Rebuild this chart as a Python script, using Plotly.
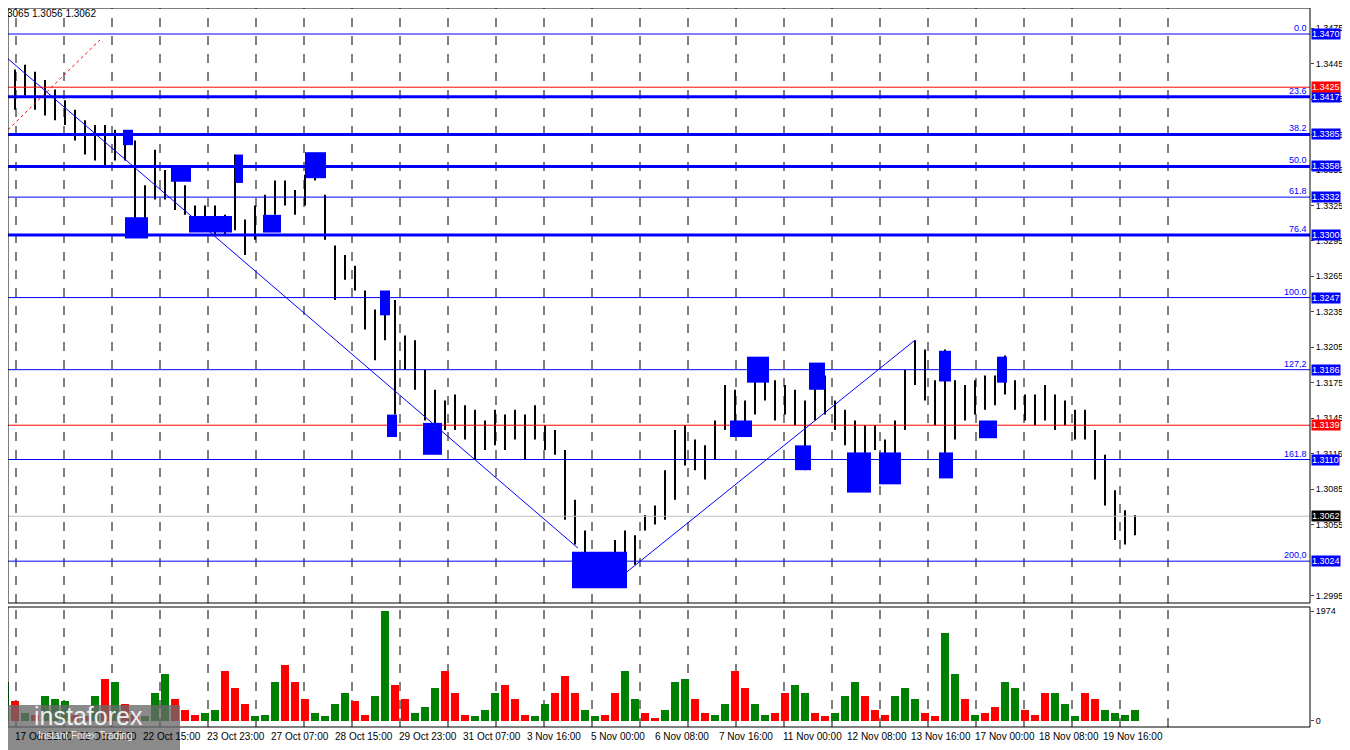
import plotly.graph_objects as go

# price bars, one every 10 px-units along the time axis
bar_high = [1.3431, 1.3440, 1.3444, 1.3438, 1.3431, 1.3423, 1.3414, 1.3406, 1.3397, 1.3393,
            1.3393, 1.3389, 1.3385, 1.3380, 1.3342, 1.3372, 1.3355, 1.3351, 1.3342, 1.3325,
            1.3325, 1.3325, 1.3317, 1.3368, 1.3313, 1.3325, 1.3334, 1.3346, 1.3346, 1.3338,
            1.3351, 1.3368, 1.3334, 1.3291, 1.3283, 1.3274, 1.3253, 1.3237, 1.3249, 1.3245,
            1.3215, 1.3211, 1.3186, 1.3169, 1.3160, 1.3165, 1.3156, 1.3152, 1.3143, 1.3152,
            1.3148, 1.3152, 1.3148, 1.3156, 1.3139, 1.3135, 1.3118, 1.3076, 1.3050, 1.3029,
            1.3025, 1.3042, 1.3050, 1.3046, 1.3063, 1.3071, 1.3101, 1.3135, 1.3139, 1.3127,
            1.3122, 1.3143, 1.3173, 1.3169, 1.3160, 1.3194, 1.3194, 1.3177, 1.3173, 1.3169,
            1.3160, 1.3190, 1.3181, 1.3160, 1.3152, 1.3143, 1.3139, 1.3139, 1.3127, 1.3143,
            1.3186, 1.3211, 1.3203, 1.3177, 1.3203, 1.3177, 1.3173, 1.3177, 1.3181, 1.3181,
            1.3198, 1.3177, 1.3165, 1.3165, 1.3173, 1.3165, 1.3160, 1.3152, 1.3152, 1.3135,
            1.3114, 1.3084, 1.3067, 1.3063]
bar_low = [1.3380, 1.3406, 1.3418, 1.3406, 1.3401, 1.3397, 1.3393, 1.3380, 1.3368, 1.3363,
           1.3359, 1.3363, 1.3363, 1.3304, 1.3304, 1.3330, 1.3330, 1.3321, 1.3317, 1.3304,
           1.3308, 1.3300, 1.3300, 1.3304, 1.3283, 1.3296, 1.3308, 1.3317, 1.3325, 1.3317,
           1.3325, 1.3346, 1.3296, 1.3245, 1.3262, 1.3253, 1.3220, 1.3194, 1.3211, 1.3148,
           1.3186, 1.3169, 1.3143, 1.3127, 1.3135, 1.3135, 1.3127, 1.3110, 1.3118, 1.3122,
           1.3118, 1.3127, 1.3110, 1.3127, 1.3118, 1.3114, 1.3059, 1.3038, 1.3012, 1.3004,
           1.3008, 1.3012, 1.3017, 1.3021, 1.3050, 1.3055, 1.3059, 1.3076, 1.3105, 1.3101,
           1.3093, 1.3110, 1.3135, 1.3135, 1.3131, 1.3148, 1.3160, 1.3143, 1.3148, 1.3139,
           1.3101, 1.3143, 1.3148, 1.3135, 1.3122, 1.3084, 1.3093, 1.3118, 1.3097, 1.3110,
           1.3135, 1.3173, 1.3160, 1.3139, 1.3110, 1.3127, 1.3143, 1.3148, 1.3152, 1.3156,
           1.3165, 1.3152, 1.3143, 1.3139, 1.3143, 1.3135, 1.3139, 1.3127, 1.3127, 1.3093,
           1.3071, 1.3042, 1.3038, 1.3046]

volume = [700, 350, 150, 100, 450, 400, 350, 100, 80, 450,
          750, 700, 300, 100, 80, 500, 850, 400, 200, 100,
          150, 200, 900, 600, 300, 80, 100, 700, 1000, 700,
          400, 150, 80, 300, 500, 350, 100, 450, 1974, 650,
          400, 150, 250, 600, 900, 500, 100, 80, 200, 500,
          650, 400, 100, 80, 300, 500, 800, 500, 200, 80,
          100, 500, 900, 400, 150, 60, 200, 700, 750, 400,
          150, 100, 300, 900, 600, 300, 100, 150, 500, 650,
          500, 150, 80, 150, 450, 700, 450, 200, 100, 450,
          600, 400, 150, 80, 1575, 850, 400, 100, 150, 250,
          700, 600, 200, 100, 500, 500, 300, 80, 500, 400,
          200, 150, 100, 200]
vol_up = "grgrgggrrgrgrrgggrrrggrrrgggrrrggggrrggrrgggrrrgggrrrggrrrggrrggrrgggrrggrrggrrggrrgggrrrgggrrggrgrrggrrrgggrrgggg"

fib_levels = [1.3470, 1.3417, 1.3385, 1.3358, 1.3332, 1.3300, 1.3247, 1.3186, 1.3110, 1.3024]
fib_names = ["0.0", "23.6", "38.2", "50.0", "61.8", "76.4", "100.0", "127,2", "161.8", "200,0"]
fib_thick = [1, 3, 3, 3, 1, 3, 1, 1, 1, 1]
red_levels = [1.3425, 1.3139]
last_price = 1.3062
price_ticks = [1.3475, 1.3445, 1.3415, 1.3385, 1.3355, 1.3325, 1.3295, 1.3265, 1.3235,
               1.3205, 1.3175, 1.3145, 1.3115, 1.3085, 1.3055, 1.2995]

# blue zones: x from, x to, price top, price bottom
zone_x0 = [0, 123, 125, 171, 189, 235, 263, 305, 380, 387, 423, 572, 730, 747, 795, 809, 847, 879, 939, 939, 979, 997]
zone_x1 = [8, 133, 148, 191, 232, 243, 281, 326, 390, 397, 442, 627, 752, 769, 811, 825, 871, 901, 951, 953, 997, 1007]
zone_top = [1.3393, 1.3389, 1.3315, 1.3358, 1.3316, 1.3368, 1.3317, 1.3370, 1.3253, 1.3148, 1.3141, 1.3032,
            1.3143, 1.3197, 1.3122, 1.3192, 1.3116, 1.3116, 1.3202, 1.3116, 1.3143, 1.3197]
zone_bot = [1.3376, 1.3376, 1.3297, 1.3345, 1.3302, 1.3344, 1.3302, 1.3348, 1.3232, 1.3129, 1.3114, 1.3001,
            1.3129, 1.3175, 1.3101, 1.3169, 1.3082, 1.3089, 1.3176, 1.3094, 1.3128, 1.3175]

date_labels = ["17 Oct 21:00", "21 Oct 07:00", "22 Oct 15:00", "23 Oct 23:00",
               "27 Oct 07:00", "28 Oct 15:00", "29 Oct 23:00", "31 Oct 07:00", "3 Nov 16:00",
               "5 Nov 00:00", "6 Nov 08:00", "7 Nov 16:00", "11 Nov 00:00", "12 Nov 08:00",
               "13 Nov 16:00", "17 Nov 00:00", "18 Nov 08:00", "19 Nov 16:00"]

# the page body adds an 8 px offset, so the axes start at 8 and the figure is 8 px smaller
W, H = 1342, 742

xs = [5 + 10 * i for i in range(len(bar_high))]
bx, by = [], []
for x, h, l in zip(xs, bar_high, bar_low):
    bx += [x, x, None]
    by += [h, l, None]

fig = go.Figure()
fig.add_trace(go.Scatter(x=bx, y=by, mode="lines", line=dict(color="black", width=2),
                         hoverinfo="skip", xaxis="x", yaxis="y", cliponaxis=False))

vx = [5 + 10 * i for i in range(len(volume))]
vcol = ["green" if c == "g" else "red" for c in vol_up[:len(volume)]]
fig.add_trace(go.Bar(x=vx, y=volume, marker=dict(color=vcol, line=dict(width=0)), width=8,
                     xaxis="x2", yaxis="y2"))

shapes = []
for gx in range(16, 1170, 48):
    for yr in ["y", "y2"]:
        shapes.append(dict(type="line", xref="x", yref=yr + " domain", x0=gx, x1=gx, y0=0, y1=1,
                           line=dict(color="black", width=1, dash="dash"), layer="below"))
for lv, th in zip(fib_levels, fib_thick):
    shapes.append(dict(type="line", xref="x domain", yref="y", x0=0, x1=1, y0=lv, y1=lv,
                       line=dict(color="#0000ff", width=th)))
for lv in red_levels:
    shapes.append(dict(type="line", xref="x domain", yref="y", x0=0, x1=1, y0=lv, y1=lv,
                       line=dict(color="red", width=1)))
shapes.append(dict(type="line", xref="x domain", yref="y", x0=0, x1=1, y0=last_price, y1=last_price,
                   line=dict(color="#c0c0c0", width=1)))
for a, b, t, u in zip(zone_x0, zone_x1, zone_top, zone_bot):
    shapes.append(dict(type="rect", xref="x", yref="y", x0=max(a, 8), x1=b, y0=u, y1=t,
                       fillcolor="#0000ff", line=dict(width=0)))
# trend lines
shapes.append(dict(type="line", xref="x", yref="y", x0=8, x1=578, y0=1.3449, y1=1.3035,
                   line=dict(color="#0000ff", width=1)))
shapes.append(dict(type="line", xref="x", yref="y", x0=627, x1=915, y0=1.3015, y1=1.3211,
                   line=dict(color="#0000ff", width=1)))
shapes.append(dict(type="line", xref="x", yref="y", x0=8, x1=100, y0=1.3389, y1=1.3465,
                   line=dict(color="red", width=1, dash="dot")))
# panel frames
for yr in ["y", "y2"]:
    shapes.append(dict(type="rect", xref="x domain", yref=yr + " domain", x0=0, x1=1, y0=0, y1=1,
                       line=dict(color="black", width=1)))
# logo backdrop
shapes.append(dict(type="rect", xref="x", yref="paper", x0=8, x1=180, y0=-0.032, y1=(727 - 705) / 719,
                   fillcolor="rgba(105,105,105,0.78)", line=dict(width=0)))

ann = []
ann.append(dict(text="3065 1.3056 1.3062", xref="paper", yref="paper", x=0, y=1, xanchor="left",
                yanchor="top", yshift=2, xshift=-3, showarrow=False,
                font=dict(size=10, color="black")))
for lv, nm in zip(fib_levels, fib_names):
    ann.append(dict(text=nm, xref="x", yref="y", x=1308, y=lv, xanchor="right", yanchor="bottom",
                    showarrow=False, borderpad=0, font=dict(size=9, color="#0000ff")))
tags = [(v, "#0000ff", "white") for v in fib_levels] + [(v, "red", "white") for v in red_levels] + \
       [(last_price, "black", "white")]
for v, bg, fc in tags:
    ann.append(dict(text=f"{v:.4f}", xref="paper", yref="y", x=1, y=v, xanchor="left", xshift=1,
                    showarrow=False, bgcolor=bg, borderpad=0, font=dict(size=9, color=fc)))
for k, lab in enumerate(date_labels):
    ann.append(dict(text=lab, xref="x", yref="paper", x=13 + 64 * k, y=0, yshift=-2, xanchor="left",
                    yanchor="top", showarrow=False, font=dict(size=10, color="black")))
ann.append(dict(text="instaforex", xref="x", yref="paper", x=32, y=(727 - 700) / 719, xanchor="left",
                yanchor="top", showarrow=False, font=dict(size=25, color="rgba(255,255,255,0.9)")))
ann.append(dict(text="Instant Forex Trading", xref="x", yref="paper", x=36, y=-0.002,
                xanchor="left", yanchor="top", showarrow=False,
                font=dict(size=10, color="rgba(255,255,255,0.9)")))
ann.append(dict(text="⚙", xref="x", yref="paper", x=6, y=(727 - 700) / 719, xanchor="left",
                yanchor="top", showarrow=False, font=dict(size=26, color="white")))

fig.update_layout(
    width=W, height=H, margin=dict(l=0, r=40, t=0, b=23),
    paper_bgcolor="white", plot_bgcolor="white", showlegend=False,
    font=dict(family="Liberation Sans", size=9, color="black"),
    xaxis=dict(domain=[0, 1], range=[8, 1310], showticklabels=False, showgrid=False,
               zeroline=False, anchor="y", automargin=False),
    xaxis2=dict(domain=[0, 1], range=[8, 1310], matches="x", showticklabels=False,
                showgrid=False, zeroline=False, anchor="y2", automargin=False),
    yaxis=dict(domain=[(727 - 603) / 719, 1], range=[1.29886, 1.34920], side="right",
               tickvals=price_ticks, tickformat=".4f", ticks="outside", ticklen=3,
               showgrid=False, zeroline=False, tickfont=dict(size=9), automargin=False),
    yaxis2=dict(domain=[0, (727 - 607) / 719], range=[-110, 2050], side="right", tickvals=[0, 1974],
                ticks="outside", ticklen=3, showgrid=False, zeroline=False, tickfont=dict(size=9),
                automargin=False),
    shapes=shapes, annotations=ann, bargap=0,
)

fig.write_html("out.html")
